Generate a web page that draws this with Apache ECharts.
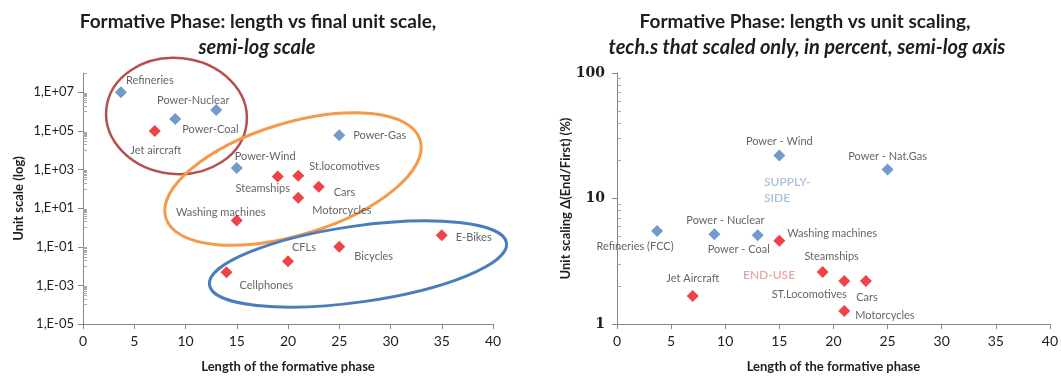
<!DOCTYPE html>
<html>
<head>
<meta charset="utf-8">
<script src="https://cdn.jsdelivr.net/npm/echarts@6/dist/echarts.min.js"></script>
<style>
  html, body { margin: 0; padding: 0; background: #ffffff; }
  #chart { width: 1061px; height: 378px; }
</style>
</head>
<body>
<div id="chart"></div>
<script>
// ---- Left panel: length of the formative phase vs final unit scale ----
const techA = ['Refineries', 'Power-Nuclear', 'Power-Coal', 'Jet aircraft', 'Power-Wind', 'Power-Gas',
  'Steamships', 'St.locomotives', 'Cars', 'Motorcycles', 'Washing machines', 'CFLs', 'Bicycles',
  'E-Bikes', 'Cellphones'];
const lengthA = [3.7, 13, 9, 7, 15, 25, 19, 21, 23, 21, 15, 20, 25, 35, 14];
const unitScaleA = [1e7, 1.2e6, 4.2e5, 1e5, 1.2e3, 6e4, 430, 480, 130, 35, 2.3, 0.018, 0.1, 0.39, 0.0048];
const sideA = ['supply', 'supply', 'supply', 'end', 'supply', 'supply', 'end', 'end', 'end', 'end',
  'end', 'end', 'end', 'end', 'end'];

// ---- Right panel: length of the formative phase vs unit scaling (%) ----
const techB = ['Refineries (FCC)', 'Power - Nuclear', 'Power - Coal', 'Washing machines', 'Power - Wind',
  'Power - Nat.Gas', 'Steamships', 'ST.Locomotives', 'Cars', 'Motorcycles', 'Jet Aircraft'];
const lengthB = [3.7, 9, 13, 15, 15, 25, 19, 21, 23, 21, 7];
const scalingB = [5.5, 5.2, 5.1, 4.6, 22, 17, 2.6, 2.2, 2.2, 1.27, 1.67];
const sideB = ['supply', 'supply', 'supply', 'end', 'supply', 'supply', 'end', 'end', 'end', 'end', 'end'];

// ---- Axis tick values ----
const yMajorA = [1e-5, 1e-3, 1e-1, 1e1, 1e3, 1e5, 1e7];
const yMajorB = [1, 10, 100];

// Minor log ticks: left axis between every pair of major ticks, right axis inside each decade
const yMinorA = [];
yMajorA.forEach(function (m) {
  for (let k = 1; k <= 9; k++) yMinorA.push(+(k * m * 10).toPrecision(3));
});
const yMinorB = [];
[1, 10].forEach(function (m) {
  for (let k = 2; k <= 9; k++) yMinorB.push(k * m);
});

// ---- Styling / layout ----
const FONT = 'Lato, "Open Sans", "Liberation Sans", sans-serif';
const SIDE_COLOR = { supply: '#4f81bd', end: '#e8141c' };
const AXIS_GREY = '#868686';
const TEXT = '#1e1e1e';
const LABEL = '#3c3c3c';

// label placement per point: [align, dx, dy] relative to the marker centre
const placeA = {
  'Refineries': ['left', 5, -12],
  'Power-Nuclear': ['center', -23, -10],
  'Power-Coal': ['left', 7, 11],
  'Jet aircraft': ['center', 1, 20],
  'Power-Wind': ['left', -2, -12],
  'Power-Gas': ['left', 14, 0],
  'Steamships': ['center', -15, 12],
  'St.locomotives': ['left', 11, -9],
  'Cars': ['left', 15, 6],
  'Motorcycles': ['left', 14, 13],
  'Washing machines': ['center', -16, -8],
  'CFLs': ['left', 4, -14],
  'Bicycles': ['left', 15, 10],
  'E-Bikes': ['left', 14, 2],
  'Cellphones': ['left', 13, 13]
};
const placeB = {
  'Refineries (FCC)': ['center', -22, 15],
  'Power - Nuclear': ['center', 11, -14],
  'Power - Coal': ['center', -19, 14],
  'Washing machines': ['left', 8, -7],
  'Power - Wind': ['center', 0, -14],
  'Power - Nat.Gas': ['center', 0, -13],
  'Steamships': ['center', 9, -15],
  'ST.Locomotives': ['center', -35, 13],
  'Cars': ['center', 1, 16],
  'Motorcycles': ['left', 11, 4],
  'Jet Aircraft': ['center', 0, -18]
};

function buildPoints(names, xs, ys, sides, place) {
  return names.map(function (n, i) {
    const p = place[n];
    return {
      name: n,
      value: [xs[i], ys[i]],
      itemStyle: { color: SIDE_COLOR[sides[i]] },
      label: { align: p[0], offset: [p[1], p[2]] }
    };
  });
}

function expLabel(v) {
  const e = Math.round(Math.log10(v));
  const s = e < 0 ? '-' : '+';
  const a = Math.abs(e);
  return '1,E' + s + (a < 10 ? '0' + a : a);
}

const xAxisBase = {
  type: 'value', min: 0, max: 40, interval: 5,
  axisLine: { show: true, lineStyle: { color: AXIS_GREY, width: 1 } },
  axisTick: { show: true, length: 5, lineStyle: { color: AXIS_GREY } },
  splitLine: { show: false },
  axisLabel: { fontSize: 14, color: TEXT, margin: 10, fontFamily: FONT },
  name: 'Length of the formative phase',
  nameLocation: 'middle', nameGap: 36,
  nameTextStyle: { fontSize: 13, fontWeight: 'bold', color: TEXT, fontFamily: FONT }
};

const labelCommon = {
  show: true, position: 'inside', verticalAlign: 'middle',
  formatter: '{b}', color: LABEL, fontSize: 11, fontFamily: FONT,
  textBorderWidth: 0
};

const chart = echarts.init(document.getElementById('chart'), null, { renderer: 'canvas' });

chart.setOption({
  backgroundColor: '#ffffff',
  animation: false,
  title: [
    { text: 'Formative Phase: length vs final unit scale,', left: 253, top: 7, textAlign: 'center',
      textStyle: { fontSize: 19, fontWeight: 'bold', color: TEXT, fontFamily: FONT } },
    { text: 'semi-log scale', left: 252, top: 33, textAlign: 'center',
      textStyle: { fontSize: 20, fontWeight: 'bold', fontStyle: 'italic', color: TEXT, fontFamily: FONT } },
    { text: 'Formative Phase: length vs unit scaling,', left: 800, top: 7, textAlign: 'center',
      textStyle: { fontSize: 19, fontWeight: 'bold', color: TEXT, fontFamily: FONT } },
    { text: 'tech.s that scaled only, in percent, semi-log axis', left: 802, top: 33, textAlign: 'center',
      textStyle: { fontSize: 20, fontWeight: 'bold', fontStyle: 'italic', color: TEXT, fontFamily: FONT } }
  ],
  grid: [
    { left: 83, right: 568, top: 73, bottom: 52 },
    { left: 617, right: 8, top: 73, bottom: 53 }
  ],
  xAxis: [
    Object.assign({}, xAxisBase, { gridIndex: 0 }),
    Object.assign({}, xAxisBase, { gridIndex: 1 })
  ],
  yAxis: [
    {
      gridIndex: 0, type: 'log', logBase: 10, min: 1e-5, max: 1e8, position: 'left',
      axisLine: { show: true, lineStyle: { color: AXIS_GREY } },
      axisTick: { show: true, length: 5, customValues: yMajorA, lineStyle: { color: AXIS_GREY } },
      axisLabel: { customValues: yMajorA, formatter: expLabel, fontSize: 13, color: TEXT,
        margin: 9, fontFamily: FONT },
      splitLine: { show: false },
      name: 'Unit scale (log)', nameLocation: 'middle', nameGap: 58, nameRotate: 90,
      nameTextStyle: { fontSize: 13, fontWeight: 'bold', color: TEXT, fontFamily: FONT }
    },
    {
      gridIndex: 0, type: 'log', logBase: 10, min: 1e-5, max: 1e8, position: 'left', offset: 0,
      axisLine: { show: false },
      axisTick: { show: true, inside: true, length: 4, customValues: yMinorA, lineStyle: { color: '#a6a6a6' } },
      axisLabel: { show: false },
      splitLine: { show: false }
    },
    {
      gridIndex: 1, type: 'log', logBase: 10, min: 1, max: 100, position: 'left',
      axisLine: { show: true, lineStyle: { color: AXIS_GREY } },
      axisTick: { show: true, length: 5, customValues: yMajorB, lineStyle: { color: AXIS_GREY } },
      axisLabel: { customValues: yMajorB, fontSize: 14, color: TEXT, margin: 12,
        fontFamily: '"DejaVu Serif", serif', fontWeight: 'bold' },
      splitLine: { show: false },
      name: 'Unit scaling \u0394(End/First) (%)', nameLocation: 'middle', nameGap: 44, nameRotate: 90,
      nameTextStyle: { fontSize: 13, fontWeight: 'bold', color: TEXT, fontFamily: FONT }
    },
    {
      gridIndex: 1, type: 'log', logBase: 10, min: 1, max: 100, position: 'left', offset: 0,
      axisLine: { show: false },
      axisTick: { show: true, inside: true, length: 4, customValues: yMinorB, lineStyle: { color: '#a6a6a6' } },
      axisLabel: { show: false },
      splitLine: { show: false }
    }
  ],
  series: [
    {
      type: 'scatter', xAxisIndex: 0, yAxisIndex: 0,
      symbol: 'diamond', symbolSize: 12,
      label: labelCommon,
      data: buildPoints(techA, lengthA, unitScaleA, sideA, placeA),
      z: 5
    },
    {
      type: 'scatter', xAxisIndex: 1, yAxisIndex: 2,
      symbol: 'diamond', symbolSize: 12,
      label: labelCommon,
      data: buildPoints(techB, lengthB, scalingB, sideB, placeB),
      z: 5
    }
  ],
  graphic: [
    // grouping ellipses on the left panel
    { type: 'ellipse', x: 176.5, y: 116, rotation: -0.1, shape: { cx: 0, cy: 0, rx: 70.5, ry: 58 },
      style: { fill: 'none', stroke: '#b5504e', lineWidth: 2.5 }, z: 1 },
    { type: 'ellipse', x: 293, y: 179, rotation: 0.297, shape: { cx: 0, cy: 0, rx: 133, ry: 56 },
      style: { fill: 'none', stroke: '#f5994b', lineWidth: 3 }, z: 1 },
    { type: 'ellipse', x: 358, y: 264, rotation: 0.14, shape: { cx: 0, cy: 0, rx: 150, ry: 38 },
      style: { fill: 'none', stroke: '#4a7ebb', lineWidth: 3 }, z: 1 },
    // group captions on the right panel
    { type: 'text', x: 764, y: 174, z: 1,
      style: { text: 'SUPPLY-\nSIDE', fill: '#a9c0dc', font: '600 12px ' + FONT, lineHeight: 16 } },
    { type: 'text', x: 743, y: 269, z: 1,
      style: { text: 'END-USE', fill: '#eaa5a5', font: '600 12px ' + FONT } }
  ]
});
</script>
</body>
</html>
